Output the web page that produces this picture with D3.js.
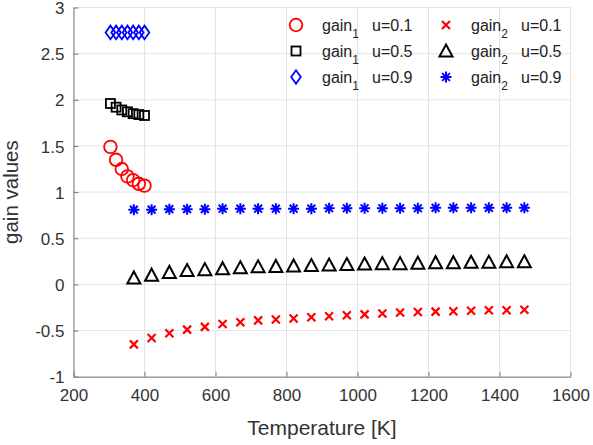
<!DOCTYPE html>
<html><head><meta charset="utf-8">
<script src="https://cdn.jsdelivr.net/npm/d3@7"></script>
<style>body{margin:0;background:#fff}svg{display:block}</style>
</head><body>
<svg id="c" width="593" height="445"></svg>
<script>
// ---- data ----
const tempGain1 = [304, 320, 336, 352, 368, 384, 400];
const gain1_u01 = [1.49, 1.35, 1.25, 1.17, 1.13, 1.09, 1.07];
const gain1_u05 = [1.96, 1.92, 1.89, 1.87, 1.85, 1.84, 1.83];
const gain1_u09 = [2.73, 2.73, 2.73, 2.73, 2.73, 2.73, 2.73];
const tempGain2 = [370, 420, 470, 520, 570, 620, 670, 720, 770, 820, 870, 920, 970, 1020, 1070, 1120, 1170, 1220, 1270, 1320, 1370, 1420, 1470];
const gain2_u01 = [-0.65, -0.58, -0.53, -0.49, -0.46, -0.43, -0.41, -0.39, -0.38, -0.37, -0.355, -0.345, -0.335, -0.325, -0.315, -0.305, -0.30, -0.295, -0.29, -0.285, -0.28, -0.28, -0.275];
const gain2_u05 = [0.07, 0.10, 0.13, 0.15, 0.16, 0.17, 0.18, 0.19, 0.195, 0.20, 0.205, 0.21, 0.215, 0.22, 0.225, 0.225, 0.23, 0.235, 0.235, 0.24, 0.24, 0.245, 0.245];
const gain2_u09 = [0.81, 0.81, 0.815, 0.815, 0.815, 0.82, 0.82, 0.82, 0.82, 0.82, 0.82, 0.825, 0.825, 0.825, 0.825, 0.825, 0.825, 0.83, 0.83, 0.83, 0.83, 0.83, 0.83];
const xTicks = [200, 400, 600, 800, 1000, 1200, 1400, 1600];
const yTicks = [-1, -0.5, 0, 0.5, 1, 1.5, 2, 2.5, 3];
const xTitle = "Temperature [K]";
const yTitle = "gain values";

const series = [
  {name: "gain", sub: "1", u: "u=0.1", x: tempGain1, y: gain1_u01, marker: "circle", color: "#ff0000"},
  {name: "gain", sub: "1", u: "u=0.5", x: tempGain1, y: gain1_u05, marker: "square", color: "#000000"},
  {name: "gain", sub: "1", u: "u=0.9", x: tempGain1, y: gain1_u09, marker: "diamond", color: "#0000ff"},
  {name: "gain", sub: "2", u: "u=0.1", x: tempGain2, y: gain2_u01, marker: "cross", color: "#ff0000"},
  {name: "gain", sub: "2", u: "u=0.5", x: tempGain2, y: gain2_u05, marker: "triangle", color: "#000000"},
  {name: "gain", sub: "2", u: "u=0.9", x: tempGain2, y: gain2_u09, marker: "star", color: "#0000ff"}
];

// ---- layout ----
const L = 73.5, R = 570.5, T = 7.5, B = 376.7;
const svg = d3.select("#c");
const font = "'Liberation Sans', Arial, Helvetica, sans-serif";
const x = d3.scaleLinear().domain([200, 1600]).range([L, R]);
const y = d3.scaleLinear().domain([-1, 3]).range([B, T]);

// grid
const grid = svg.append("g").attr("stroke", "#e4e4e4").attr("stroke-width", 1);
xTicks.forEach(t => grid.append("line").attr("x1", x(t)).attr("x2", x(t)).attr("y1", T).attr("y2", B));
yTicks.forEach(t => grid.append("line").attr("x1", L).attr("x2", R).attr("y1", y(t)).attr("y2", y(t)));

// axes
const xAxis = svg.append("g").attr("transform", `translate(0,${B})`)
  .call(d3.axisBottom(x).tickValues(xTicks).tickSizeInner(-5).tickSizeOuter(0).tickPadding(12).tickFormat(d3.format("d")));
const yAxis = svg.append("g").attr("transform", `translate(${L},0)`)
  .call(d3.axisLeft(y).tickValues(yTicks).tickSizeInner(-5).tickSizeOuter(0).tickPadding(9).tickFormat(d => String(d)));
[xAxis, yAxis].forEach(a => {
  a.select(".domain").attr("stroke", "#7a7a7a").attr("stroke-width", 1);
  a.selectAll(".tick line").attr("stroke", "#7a7a7a");
  a.selectAll("text").attr("fill", "#333").style("font-family", font).style("font-size", "17px");
});
yAxis.selectAll("text").attr("dy", "0.36em");

// titles
svg.append("text").attr("x", (L + R) / 2).attr("y", 435).attr("text-anchor", "middle")
  .style("font-family", font).style("font-size", "21px").attr("fill", "#333").text(xTitle);
svg.append("text").attr("transform", `translate(18,${(T + B) / 2}) rotate(-90)`).attr("text-anchor", "middle")
  .style("font-family", font).style("font-size", "20.5px").attr("fill", "#333").text(yTitle);

// markers
function drawMarker(g, type, color) {
  switch (type) {
    case "circle":
      g.append("circle").attr("r", 6.3).attr("fill", "none").attr("stroke", color).attr("stroke-width", 1.8); break;
    case "square":
      g.append("rect").attr("x", -4.5).attr("y", -4.5).attr("width", 9).attr("height", 9)
        .attr("fill", "none").attr("stroke", color).attr("stroke-width", 1.8); break;
    case "diamond":
      g.append("path").attr("d", "M0,-6.8L4.8,0L0,6.8L-4.8,0Z").attr("fill", "none").attr("stroke", color).attr("stroke-width", 1.8); break;
    case "cross":
      g.append("path").attr("d", "M-4,-4L4,4M-4,4L4,-4").attr("stroke", color).attr("stroke-width", 2.2).attr("fill", "none"); break;
    case "triangle":
      g.append("path").attr("d", "M0,-6.5L6.5,5.5L-6.5,5.5Z").attr("fill", "none").attr("stroke", color).attr("stroke-width", 2); break;
    case "star":
      g.append("path").attr("d", "M0,-5.5L0,5.5M-5.5,0L5.5,0M-3.9,-3.9L3.9,3.9M-3.9,3.9L3.9,-3.9")
        .attr("stroke", color).attr("stroke-width", 2).attr("fill", "none"); break;
  }
}

series.forEach(s => {
  const g = svg.append("g");
  s.x.forEach((t, i) => {
    const m = g.append("g").attr("transform", `translate(${x(t)},${y(s.y[i])})`);
    drawMarker(m, s.marker, s.color);
  });
});

// legend
const rows = [25, 51, 77];
const cols = [{mx: 296, tx: 322}, {mx: 446, tx: 471}];
series.forEach((s, i) => {
  const c = cols[Math.floor(i / 3)], ry = rows[i % 3];
  const m = svg.append("g").attr("transform", `translate(${c.mx},${ry})`);
  drawMarker(m, s.marker, s.color);
  const t = svg.append("text").attr("x", c.tx).attr("y", ry + 6)
    .style("font-family", font).style("font-size", "16px").attr("fill", "#222");
  t.append("tspan").text(s.name);
  t.append("tspan").attr("dy", 7).style("font-size", "12px").text(s.sub);
  svg.append("text").attr("x", c.tx + 50).attr("y", ry + 6)
    .style("font-family", font).style("font-size", "16px").attr("fill", "#222").text(s.u);
});
</script>
</body></html>
